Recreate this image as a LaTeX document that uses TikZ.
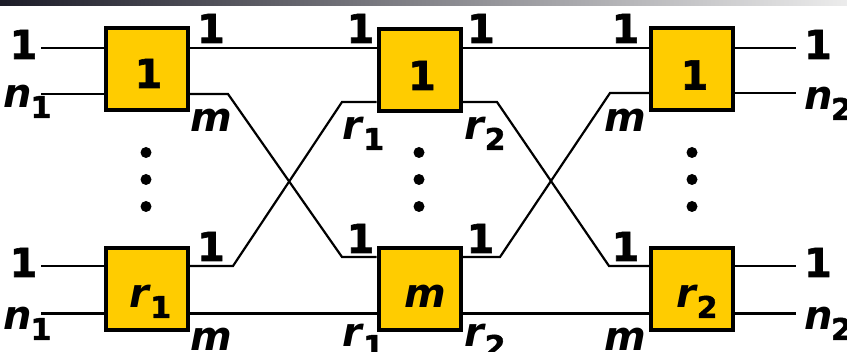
\documentclass[tikz,border=0pt]{standalone}
\usepackage{fontspec}
\setmainfont{DejaVu Sans}[BoldFeatures={FakeBold=1.5}]
\definecolor{gold}{RGB}{255,204,0}
\definecolor{bardark}{RGB}{28,28,40}
\definecolor{barlight}{RGB}{236,236,236}
\newcommand{\vsub}[2]{\textit{#1}\kern-1.5pt\raisebox{-10pt}{\fontsize{30}{30}\selectfont\upshape #2}}
\tikzset{
  box/.style={draw=black, line width=4pt, fill=gold, minimum width=82pt, minimum height=82pt, inner sep=0pt},
  wire/.style={line width=2.2pt, line join=miter},
  lbl/.style={font=\fontsize{40}{40}\selectfont\bfseries, inner sep=0pt, anchor=base},
  dotn/.style={circle, fill=black, inner sep=0pt, minimum size=11pt}
}
\begin{document}
\begin{tikzpicture}[x=1pt,y=-1pt]
\useasboundingbox (0,0) rectangle (847,352);
\fill[white] (0,0) rectangle (847,352);
\shade[left color=bardark, right color=barlight] (0,1) rectangle (847,5.5);

% boxes
\node[box] (L1) at (146.5,69) {};
\node[box] (L2) at (146.5,289) {};
\node[box] (M1) at (419.5,70) {};
\node[box] (M2) at (419.5,289) {};
\node[box] (R1) at (692,69.5) {};
\node[box] (R2) at (692,289) {};

% coordinates
\coordinate (t) at (0,48);
\coordinate (b) at (0,313.5);
\coordinate (in1) at (41,48);
\coordinate (in2) at (41,94);
\coordinate (in3) at (41,266);
\coordinate (in4) at (41,313.5);
\coordinate (out1) at (796,48);
\coordinate (out2) at (796,93);
\coordinate (out3) at (796,266);
\coordinate (out4) at (796,313.5);
\coordinate (c1) at (228,94);
\coordinate (c2) at (342,257);
\coordinate (c3) at (233,266);
\coordinate (c4) at (342,102);
\coordinate (c5) at (497,102);
\coordinate (c6) at (609,266);
\coordinate (c7) at (500,257);
\coordinate (c8) at (610,93);

% wires
\draw[wire] (in1) -- (L1.west |- in1);
\draw[wire] (in2) -- (L1.west |- in2);
\draw[wire] (in3) -- (L2.west |- in3);
\draw[wire] (in4) -- (L2.west |- in4);
\draw[wire] (R1.east |- out1) -- (out1);
\draw[wire] (R1.east |- out2) -- (out2);
\draw[wire] (R2.east |- out3) -- (out3);
\draw[wire] (R2.east |- out4) -- (out4);
\draw[wire] (L1.east |- t) -- (M1.west |- t);
\draw[wire] (M1.east |- t) -- (R1.west |- t);
\draw[wire] (L2.east |- b) -- (M2.west |- b);
\draw[wire] (M2.east |- b) -- (R2.west |- b);
\draw[wire] (L1.east |- c1) -- (c1) -- (c2) -- (M2.west |- c2);
\draw[wire] (L2.east |- c3) -- (c3) -- (c4) -- (M1.west |- c4);
\draw[wire] (M1.east |- c5) -- (c5) -- (c6) -- (R2.west |- c6);
\draw[wire] (M2.east |- c7) -- (c7) -- (c8) -- (R1.west |- c8);

% dots
\foreach \x/\n in {146/l, 419/m, 692/r}{
  \node[dotn] (d\n1) at (\x,152.5) {};
  \node[dotn] (d\n2) at (\x,179.5) {};
  \node[dotn] (d\n3) at (\x,206.5) {};
}

% labels inside boxes
\node[lbl] (tL1) at (148.5,88) {1};
\node[lbl] (tM1) at (422,90) {1};
\node[lbl] (tR1) at (694.5,89.5) {1};
\node[lbl] (tL2) at (150.5,308) {\vsub{r}{1}};
\node[lbl] (tM2) at (425,308) {\textit{m}};
\node[lbl] (tR2) at (697,308) {\vsub{r}{2}};

% left inputs
\node[lbl] (a1) at (23.5,59) {1};
\node[lbl] (a2) at (27.5,108) {\vsub{n}{1}};
\node[lbl] (a3) at (23.5,277) {1};
\node[lbl] (a4) at (27.5,330) {\vsub{n}{1}};

% left outputs
\node[lbl] (b1) at (211,43) {1};
\node[lbl] (b2) at (211,132) {\textit{m}};
\node[lbl] (b3) at (211,261) {1};
\node[lbl] (b4) at (211,351) {\textit{m}};

% middle
\node[lbl] (m1) at (360.5,43) {1};
\node[lbl] (m2) at (481,43) {1};
\node[lbl] (m3) at (363.5,140) {\vsub{r}{1}};
\node[lbl] (m4) at (485,140) {\vsub{r}{2}};
\node[lbl] (m5) at (360.5,253) {1};
\node[lbl] (m6) at (480.5,253) {1};
\node[lbl] (m7) at (363.5,347) {\vsub{r}{1}};
\node[lbl] (m8) at (485,347) {\vsub{r}{2}};

% right inputs
\node[lbl] (r1) at (625.5,43) {1};
\node[lbl] (r2) at (625,132) {\textit{m}};
\node[lbl] (r3) at (625.5,261) {1};
\node[lbl] (r4) at (625,351) {\textit{m}};

% right outputs
\node[lbl] (o1) at (818,59) {1};
\node[lbl] (o2) at (828,110) {\vsub{n}{2}};
\node[lbl] (o3) at (818,277) {1};
\node[lbl] (o4) at (828,330) {\vsub{n}{2}};
\end{tikzpicture}
\end{document}
